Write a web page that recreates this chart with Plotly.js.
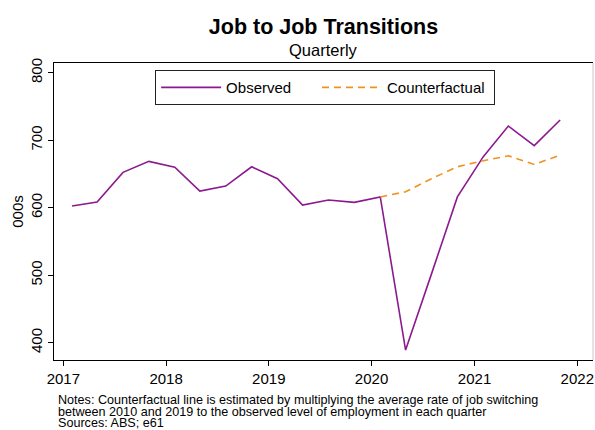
<!DOCTYPE html>
<html>
<head>
<meta charset="utf-8">
<script src="https://cdn.plot.ly/plotly-3.0.1.min.js"></script>
<style>html,body{margin:0;padding:0;background:#fff;}#chart{width:595px;height:430px;}</style>
</head>
<body>
<div id="chart"></div>
<script>
// Quarter dates (plotted at start of the second month of each quarter)
var obsDates = [
  "2017-02-01","2017-05-01","2017-08-01","2017-11-01",
  "2018-02-01","2018-05-01","2018-08-01","2018-11-01",
  "2019-02-01","2019-05-01","2019-08-01","2019-11-01",
  "2020-02-01","2020-05-01","2020-08-01","2020-11-01",
  "2021-02-01","2021-05-01","2021-08-01","2021-11-01"
];
var observed = [
  602.5, 608.4, 652.4, 668.7,
  659.9, 624.7, 632.1, 660.7,
  643.0, 604.0, 611.4, 608.0,
  615.9, 389.2, 502.0, 616.0,
  675.6, 721.0, 692.0, 730.0
];
var cfDates = [
  "2020-02-01","2020-05-01","2020-08-01","2020-11-01",
  "2021-02-01","2021-05-01","2021-08-01","2021-11-01"
];
var counterfactual = [615.9, 623.7, 643.0, 660.7, 669.6, 677.0, 664.0, 678.0];

var yTicks = [400, 500, 600, 700, 800];
var xTickVals = ["2017-01-01","2018-01-01","2019-01-01","2020-01-01","2021-01-01","2022-01-01"];
var xTickText = ["2017","2018","2019","2020","2021","2022"];

var seriesNames = ["Observed", "Counterfactual"];
var titleText = "Job to Job Transitions";
var subtitleText = "Quarterly";
var noteLines = [
  "Notes: Counterfactual line is estimated by multiplying the average rate of job switching",
  "between 2010 and 2019 to the observed level of employment in each quarter",
  "Sources: ABS; e61"
];

var FONT = "Liberation Sans, Arial, Helvetica, sans-serif";

var traces = [
  {x: obsDates, y: observed, type: "scatter", mode: "lines", name: seriesNames[0] + "\u00a0\u00a0\u00a0\u00a0\u00a0",
   line: {color: "#8B1A8F", width: 1.6}},
  {x: cfDates, y: counterfactual, type: "scatter", mode: "lines", name: seriesNames[1] + "\u00a0",
   line: {color: "#EE9322", width: 1.6, dash: "7px,5px"}}
];

var annotations = [
  {text: subtitleText, xref: "paper", yref: "paper", x: 0.5, y: (360 - 50) / 297, xanchor: "center", yanchor: "middle",
   showarrow: false, font: {size: 16.5, color: "#000", family: FONT}}
];
var noteY = [399.5, 411.5, 423.2];
for (var i = 0; i < noteLines.length; i++) {
  annotations.push({text: noteLines[i], xref: "paper", yref: "paper",
    x: (56 - 54) / 539, y: (360 - noteY[i]) / 297, xanchor: "left", yanchor: "middle",
    showarrow: false, font: {size: 12.6, color: "#000", family: FONT}});
}

var layout = {
  width: 595, height: 430,
  margin: {l: 54, r: 2, t: 63, b: 70, pad: 0},
  paper_bgcolor: "#fff", plot_bgcolor: "#fff",
  font: {family: FONT, color: "#000"},
  title: {text: "<b>" + titleText + "</b>", xref: "paper", x: 0.5, xanchor: "center",
          yref: "container", y: 1 - 26 / 430, yanchor: "middle",
          font: {size: 21.5, color: "#000", family: FONT}},
  xaxis: {type: "date", range: ["2016-11-28 20:00", "2022-02-25 19:00"],
          tickmode: "array", tickvals: xTickVals, ticktext: xTickText,
          ticks: "outside", ticklen: 5, tickwidth: 1, tickcolor: "#000",
          showline: true, linecolor: "#000", linewidth: 1, mirror: true,
          showgrid: false, zeroline: false, tickfont: {size: 15, color: "#000"}},
  yaxis: {range: [374.4, 814.4], tickmode: "array", tickvals: yTicks,
          ticks: "outside", ticklen: 5, tickwidth: 1, tickcolor: "#000", tickangle: -90,
          showline: true, linecolor: "#000", linewidth: 1,
          showgrid: false, zeroline: false, tickfont: {size: 15, color: "#000"},
          title: {text: "000s", font: {size: 15, color: "#000"}, standoff: 0}},
  legend: {orientation: "h", x: 0.503, xanchor: "center", y: 0.976, yanchor: "top",
           bordercolor: "#222", borderwidth: 1, bgcolor: "#fff",
           font: {size: 15, color: "#000"}, itemwidth: 60},
  shapes: [
    {type: "line", xref: "paper", yref: "paper", x0: 1, x1: 1, y0: 0, y1: 1,
     line: {color: "#c8c8c8", width: 1}}
  ],
  annotations: annotations
};

Plotly.newPlot("chart", traces, layout, {displayModeBar: false, staticPlot: true});
</script>
</body>
</html>
